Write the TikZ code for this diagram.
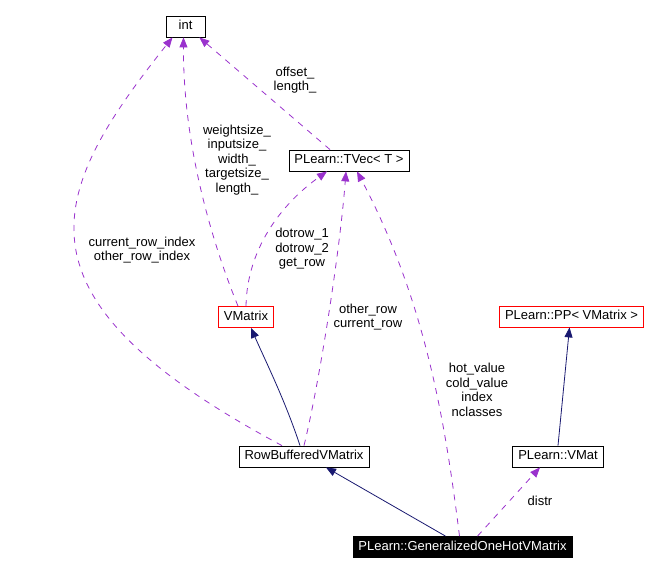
\documentclass[tikz,border=0pt]{standalone}
\usepackage{fontspec}
\setmainfont{Liberation Sans}
\usepackage{xcolor}
\usetikzlibrary{arrows.meta,positioning}

\definecolor{usocol}{RGB}{154,50,205}
\definecolor{eredcol}{RGB}{25,25,112}

\begin{document}
\begin{tikzpicture}[x=1pt, y=-1pt, font=\fontsize{13}{14.5}\selectfont]
    % Stili
    \tikzstyle{classe}=[rectangle, draw=black, fill=white, line width=0.8pt, minimum height=21pt, inner xsep=5.5pt, inner ysep=0pt, text height=9.3pt, text depth=2.6pt]
    \tikzstyle{incompleta}=[classe, draw=red]
    \tikzstyle{principale}=[classe, fill=black, text=white]
    \tikzstyle{uso}=[-{Triangle[length=10pt, width=8pt]}, draw=usocol, line width=0.8pt, dash pattern=on 6pt off 6pt]
    \tikzstyle{eredita}=[-{Triangle[length=10pt, width=8pt]}, draw=eredcol, line width=0.8pt]
    \tikzstyle{etichetta}=[align=center, inner sep=0pt]

    \useasboundingbox (0,0) rectangle (650,574);

    % Classi
    \node (int) [classe, minimum width=39pt] at (185.5,26.5) {int};
    \node (tvec) [classe] at (349,160.5) {PLearn::TVec< T >};
    \node (vmatrix) [incompleta] at (246,317) {VMatrix};
    \node (pp) [incompleta] at (571.5,316.5) {PLearn::PP< VMatrix >};
    \node (rowbuf) [classe] at (304,456.5) {RowBufferedVMatrix};
    \node (vmat) [classe] at (558,456.5) {PLearn::VMat};
    \node (onehot) [principale] at (462.5,547) {PLearn::GeneralizedOneHotVMatrix};

    % Ereditarieta
    \draw [eredita] ([xshift=-4pt]rowbuf.north) .. controls (285,400) and (265,360) .. ([xshift=5pt]vmatrix.south);
    \draw [eredita] ([xshift=-17pt]onehot.north) -- ([xshift=22pt]rowbuf.south);
    \draw [eredita] (vmat.north) -- ([xshift=-2pt]pp.south);

    % Membri usati
    \draw [uso] ([xshift=-8pt]vmatrix.north) .. controls (215,250) and (183,150) .. ([xshift=-2pt]int.south);
    \draw [uso] ([xshift=-22pt]rowbuf.north) .. controls (4,297) and (47,195) .. ([xshift=-13pt]int.south);
    \draw [uso] ([xshift=-19pt]tvec.north) -- ([xshift=-6pt]int.south east);
    \draw [uso] (vmatrix.north) .. controls (247,250) and (280,205) .. ([xshift=-22pt]tvec.south);
    \draw [uso] (rowbuf.north) .. controls (320,380) and (340,250) .. ([xshift=-3pt]tvec.south);
    \draw [uso] ([xshift=-3pt]onehot.north) .. controls (445,420) and (425,300) .. ([xshift=8pt]tvec.south);
    \draw [uso] ([xshift=15pt]onehot.north) -- ([xshift=-18pt]vmat.south);

    % Etichette
    \node (l_offset) [etichetta] at (295,80) {offset\_\\length\_};
    \node (l_size) [etichetta] at (237,160) {weightsize\_\\inputsize\_\\width\_\\targetsize\_\\length\_};
    \node (l_index) [etichetta] at (142,250) {current\_row\_index\\other\_row\_index};
    \node (l_dotrow) [etichetta] at (302,249) {dotrow\_1\\dotrow\_2\\get\_row};
    \node (l_row) [etichetta] at (368,317) {other\_row\\current\_row};
    \node (l_hot) [etichetta] at (477,390) {hot\_value\\cold\_value\\index\\nclasses};
    \node (l_distr) [etichetta] at (540,501) {distr};

\end{tikzpicture}
\end{document}
